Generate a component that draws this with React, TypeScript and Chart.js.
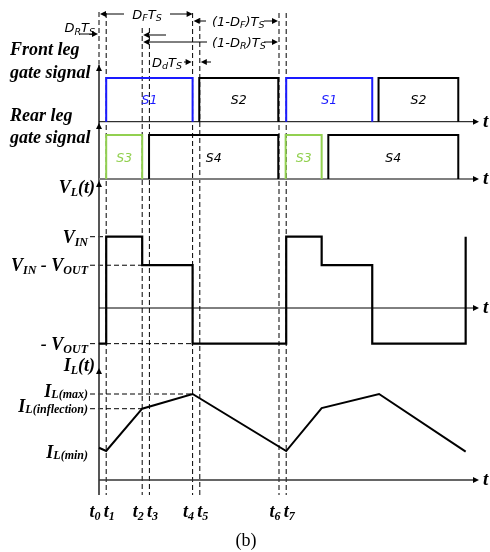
import React, { useEffect, useRef } from 'react';
import { Chart, registerables } from 'chart.js';
Chart.register(...registerables);

const W = 490;
const H = 552;

// ---- data (time in units of Ts, t0 = 0) ----
const timeLabels = ['0', '1', '2', '3', '4', '5', '6', '7'];
const timeMarks = [0, 0.04, 0.24, 0.28, 0.52, 0.56, 1.0, 1.04];

const frontS1 = [[0.04, 0.52], [1.04, 1.518]];
const frontS2 = [[0.557, 0.996], [1.553, 1.996]];
const rearS3 = [[0.04, 0.24], [1.037, 1.237]];
const rearS4 = [[0.278, 0.996], [1.274, 1.996]];

const VIN = 1;
const VIN_MINUS_VOUT = 0.6;
const NEG_VOUT = -0.5;
const vlTimes = [0, 0.04, 0.04, 0.24, 0.24, 0.52, 0.52, 1.04, 1.04, 1.237, 1.237, 1.518, 1.518, 2.037, 2.037];
const vlValues = [-0.5, -0.5, 1, 1, 0.6, 0.6, -0.5, -0.5, 1, 1, 0.6, 0.6, -0.5, -0.5, 1];

const IL_MAX = 10;
const IL_INFL = 8.29;
const IL_MIN = 3.37;
const ilTimes = [0, 0.04, 0.24, 0.52, 1.04, 1.237, 1.556, 2.037];
const ilValues = [3.75, 3.37, 8.29, 10, 3.37, 8.37, 10, 3.3];

// ---- layout (pixels) ----
const X0 = 99;
const PX_TS = 180;
function range(v0: number, p0: number, v1: number, p1: number) {
  const k = (p0 - p1) / (v1 - v0);
  return { min: v0 - (H - p0) / k, max: v0 + p0 / k };
}
const frontR = range(0, 121.7, 1, 78);
const rearR = range(0, 179, 1, 135);
const vlR = range(0, 308, 1, 236.7);
const ilR = range(0, 480, 10, 394);

const SERIF = '"Liberation Serif", "Times New Roman", serif';
const SANS = '"DejaVu Sans", sans-serif';

function pulses(list: number[][]) {
  const pts: any[] = [];
  list.forEach(([a, b]) => {
    pts.push({ x: a, y: 0 }, { x: a, y: 1 }, { x: b, y: 1 }, { x: b, y: 0 }, { x: b + 0.001, y: null });
  });
  return pts;
}

type Seg = { t: string; sub?: boolean };
function rich(ctx: CanvasRenderingContext2D, segs: Seg[], x: number, y: number, align: string,
  size: number, subSize: number, style: string, family: string, color: string, subDy: number) {
  const f = (s: number) => `${style} ${s}px ${family}`;
  let w = 0;
  segs.forEach((s) => { ctx.font = f(s.sub ? subSize : size); w += ctx.measureText(s.t).width; });
  let cx = align === 'left' ? x : align === 'right' ? x - w : x - w / 2;
  ctx.fillStyle = color;
  ctx.textAlign = 'left';
  ctx.textBaseline = 'alphabetic';
  segs.forEach((s) => {
    ctx.font = f(s.sub ? subSize : size);
    ctx.fillText(s.t, cx, s.sub ? y + subDy : y);
    cx += ctx.measureText(s.t).width;
  });
}

function line(ctx: CanvasRenderingContext2D, x1: number, y1: number, x2: number, y2: number,
  color = '#000', w = 1, dash: number[] = []) {
  ctx.save();
  ctx.strokeStyle = color;
  ctx.lineWidth = w;
  ctx.setLineDash(dash);
  ctx.beginPath();
  ctx.moveTo(x1, y1);
  ctx.lineTo(x2, y2);
  ctx.stroke();
  ctx.restore();
}

function head(ctx: CanvasRenderingContext2D, x: number, y: number, dir: string, len = 6, hw = 3) {
  ctx.save();
  ctx.fillStyle = '#000';
  ctx.beginPath();
  if (dir === 'right') { ctx.moveTo(x, y); ctx.lineTo(x - len, y - hw); ctx.lineTo(x - len, y + hw); }
  if (dir === 'left') { ctx.moveTo(x, y); ctx.lineTo(x + len, y - hw); ctx.lineTo(x + len, y + hw); }
  if (dir === 'up') { ctx.moveTo(x, y); ctx.lineTo(x - hw, y + len); ctx.lineTo(x + hw, y + len); }
  ctx.closePath();
  ctx.fill();
  ctx.restore();
}

const overlay = {
  id: 'overlay',
  beforeDatasetsDraw(chart: any) {
    const ctx: CanvasRenderingContext2D = chart.ctx;
    const s = chart.scales;
    const X = (t: number) => s.x.getPixelForValue(t);
    const yF = (v: number) => s.yFront.getPixelForValue(v);
    const yR = (v: number) => s.yRear.getPixelForValue(v);
    const yV = (v: number) => s.yVL.getPixelForValue(v);
    const yI = (v: number) => s.yIL.getPixelForValue(v);
    const xEnd = 479;
    const dash = [5, 3];
    const bottom = 495;

    // vertical dashed time markers
    line(ctx, X(timeMarks[0]), 12, X(timeMarks[0]), yF(0) - 57, '#000', 1, dash);
    timeMarks.forEach((t, i) => {
      if (i === 0) return;
      const top = i === 2 || i === 3 ? 28 : i === 5 ? 18 : 13;
      line(ctx, X(t), top, X(t), bottom, '#000', 1, dash);
    });

    // horizontal dashed level lines
    line(ctx, 90, yV(VIN), X(timeMarks[1]), yV(VIN), '#000', 1, dash);
    line(ctx, 90, yV(VIN_MINUS_VOUT), X(timeMarks[2]), yV(VIN_MINUS_VOUT), '#000', 1, dash);
    line(ctx, 90, yV(NEG_VOUT), X(timeMarks[4]), yV(NEG_VOUT), '#000', 1, dash);
    line(ctx, 90, yI(IL_MAX), X(timeMarks[4]), yI(IL_MAX), '#000', 1, dash);
    line(ctx, 90, yI(IL_INFL), X(timeMarks[2]), yI(IL_INFL), '#000', 1, dash);

    // left vertical axis
    const ax = X(0);
    line(ctx, ax, 65, ax, bottom, '#444', 1.8);
    head(ctx, ax, 65, 'up');
    head(ctx, ax, 123, 'up');
    head(ctx, ax, 181, 'up');
    head(ctx, ax, 368, 'up');

    // horizontal axes
    line(ctx, ax, yF(0), xEnd - 4, yF(0), '#000', 1);
    head(ctx, xEnd, yF(0), 'right');
    line(ctx, ax, yR(0), xEnd - 4, yR(0), '#7f7f7f', 2);
    head(ctx, xEnd, yR(0), 'right');
    line(ctx, ax, yV(0), xEnd - 4, yV(0), '#000', 1);
    head(ctx, xEnd, yV(0), 'right');
    line(ctx, ax, yI(0), xEnd - 4, yI(0), '#333', 1.3);
    head(ctx, xEnd, yI(0), 'right');
  },
  afterDatasetsDraw(chart: any) {
    const ctx: CanvasRenderingContext2D = chart.ctx;
    const s = chart.scales;
    const X = (t: number) => s.x.getPixelForValue(t);
    const yF = (v: number) => s.yFront.getPixelForValue(v);
    const yR = (v: number) => s.yRear.getPixelForValue(v);
    const yV = (v: number) => s.yVL.getPixelForValue(v);
    const yI = (v: number) => s.yIL.getPixelForValue(v);
    const BI = 'italic bold';

    // axis "t" labels
    [yF(0), yR(0), yV(0), yI(0)].forEach((y) => {
      rich(ctx, [{ t: 't' }], 483, y + 5, 'left', 19, 12, BI, SERIF, '#000', 3);
    });

    // left labels
    rich(ctx, [{ t: 'Front leg' }], 10, 55, 'left', 18, 12, BI, SERIF, '#000', 3);
    rich(ctx, [{ t: 'gate signal' }], 10, 78, 'left', 18, 12, BI, SERIF, '#000', 3);
    rich(ctx, [{ t: 'Rear leg' }], 10, 121, 'left', 18, 12, BI, SERIF, '#000', 3);
    rich(ctx, [{ t: 'gate signal' }], 10, 143, 'left', 18, 12, BI, SERIF, '#000', 3);
    rich(ctx, [{ t: 'V' }, { t: 'L', sub: true }, { t: '(t)' }], 95, 193, 'right', 18, 12, BI, SERIF, '#000', 3);
    rich(ctx, [{ t: 'V' }, { t: 'IN', sub: true }], 88, yV(VIN) + 6.5, 'right', 18, 12, BI, SERIF, '#000', 3);
    rich(ctx, [{ t: 'V' }, { t: 'IN', sub: true }, { t: ' - V' }, { t: 'OUT', sub: true }], 88, yV(VIN_MINUS_VOUT) + 6, 'right', 18, 12, BI, SERIF, '#000', 3);
    rich(ctx, [{ t: '- V' }, { t: 'OUT', sub: true }], 88, yV(NEG_VOUT) + 6, 'right', 18, 12, BI, SERIF, '#000', 3);
    rich(ctx, [{ t: 'I' }, { t: 'L', sub: true }, { t: '(t)' }], 95, 371, 'right', 18, 12, BI, SERIF, '#000', 3);
    rich(ctx, [{ t: 'I' }, { t: 'L(max)', sub: true }], 88, yI(IL_MAX) + 3, 'right', 18, 12, BI, SERIF, '#000', 1);
    rich(ctx, [{ t: 'I' }, { t: 'L(inflection)', sub: true }], 88, yI(IL_INFL) + 3.5, 'right', 18, 12, BI, SERIF, '#000', 1);
    rich(ctx, [{ t: 'I' }, { t: 'L(min)', sub: true }], 88, yI(IL_MIN) + 7, 'right', 18, 12, BI, SERIF, '#000', 1);

    // time labels
    timeMarks.forEach((t, i) => {
      const x = X(t) + (i % 2 === 0 ? -4 : 3);
      rich(ctx, [{ t: 't' }, { t: timeLabels[i], sub: true }], x, 517, 'center', 18, 12, BI, SERIF, '#000', 3);
    });

    // gate labels
    const gl = (list: number[][], txt: string, color: string, y: number) => {
      list.forEach(([a, b]) => {
        rich(ctx, [{ t: txt }], (X(a) + X(b)) / 2, y, 'center', 12.5, 9, 'italic', SANS, color, 3);
      });
    };
    gl(frontS1, 'S1', '#1a1aff', yF(0) - 18);
    gl(frontS2, 'S2', '#000', yF(0) - 18);
    gl(rearS3, 'S3', '#92d050', yR(0) - 17);
    gl(rearS4, 'S4', '#000', yR(0) - 17);

    // duty annotations
    const A = (segs: Seg[], x: number, y: number, align: string) =>
      rich(ctx, segs, x, y, align, 13, 9.5, 'italic', SANS, '#000', 2.5);
    const t0 = X(timeMarks[0]);
    const t2 = X(timeMarks[2]);
    const t4 = X(timeMarks[4]);
    const t5 = X(timeMarks[5]);
    const t6 = X(timeMarks[6]);

    // DF Ts
    line(ctx, t0 + 4, 14, 124, 14);
    head(ctx, t0 + 1, 14, 'left');
    A([{ t: 'D' }, { t: 'F', sub: true }, { t: 'T' }, { t: 'S', sub: true }], 147, 18.5, 'center');
    line(ctx, 170, 14, t4 - 4, 14);
    head(ctx, t4, 14, 'right');

    // DR Ts
    A([{ t: 'D' }, { t: 'R', sub: true }, { t: 'T' }, { t: 'S', sub: true }], 95, 32, 'right');
    line(ctx, 80, 34, t0 - 4, 34);
    head(ctx, t0 - 1, 34, 'right');
    line(ctx, t2 + 4, 35, 166, 35);
    head(ctx, t2 + 1, 35, 'left');

    // (1-DF) Ts
    line(ctx, t4 + 4, 21, 206, 21);
    head(ctx, t4 + 1, 21, 'left');
    A([{ t: '(1-D' }, { t: 'F', sub: true }, { t: ')T' }, { t: 'S', sub: true }], 212, 25.5, 'left');
    line(ctx, 264, 21, t6 - 4, 21);
    head(ctx, t6 - 1, 21, 'right');

    // (1-DR) Ts
    line(ctx, t2 + 4, 42, 207, 42);
    head(ctx, t2 + 1, 42, 'left');
    A([{ t: '(1-D' }, { t: 'R', sub: true }, { t: ')T' }, { t: 'S', sub: true }], 212, 46.5, 'left');
    line(ctx, 264, 42, t6 - 4, 42);
    head(ctx, t6 - 1, 42, 'right');

    // Dd Ts
    A([{ t: 'D' }, { t: 'd', sub: true }, { t: 'T' }, { t: 'S', sub: true }], 182, 66.5, 'right');
    line(ctx, 184, 62, t4 - 4, 62);
    head(ctx, t4 - 1, 62, 'right');
    line(ctx, t5 + 4, 62, 211, 62);
    head(ctx, t5 + 1, 62, 'left');

    // caption
    ctx.font = `18px ${SERIF}`;
    ctx.fillStyle = '#000';
    ctx.textAlign = 'center';
    ctx.textBaseline = 'alphabetic';
    ctx.fillText('(b)', 246, 546);
  },
};

export default function App() {
  const ref = useRef<HTMLCanvasElement | null>(null);
  useEffect(() => {
    if (!ref.current) return;
    const lineDs = (data: any[], color: string, yAxisID: string, w = 2) => ({
      data, borderColor: color, borderWidth: w, yAxisID, pointRadius: 0, tension: 0,
      fill: false, spanGaps: false, borderCapStyle: 'butt', borderJoinStyle: 'miter',
    });
    const chart = new Chart(ref.current, {
      type: 'line',
      data: {
        datasets: [
          lineDs(pulses(frontS1), '#1a1aff', 'yFront'),
          lineDs(pulses(frontS2), '#000', 'yFront'),
          lineDs(pulses(rearS3), '#92d050', 'yRear'),
          lineDs(pulses(rearS4), '#000', 'yRear'),
          lineDs(vlTimes.map((t, i) => ({ x: t, y: vlValues[i] })), '#000', 'yVL', 2.2),
          lineDs(ilTimes.map((t, i) => ({ x: t, y: ilValues[i] })), '#000', 'yIL', 2),
        ] as any,
      },
      options: {
        animation: false,
        responsive: false,
        events: [],
        layout: { padding: 0 },
        plugins: { legend: { display: false }, tooltip: { enabled: false } },
        scales: {
          x: { type: 'linear', display: false, min: -X0 / PX_TS, max: (W - X0) / PX_TS },
          yFront: { type: 'linear', display: false, min: frontR.min, max: frontR.max },
          yRear: { type: 'linear', display: false, min: rearR.min, max: rearR.max },
          yVL: { type: 'linear', display: false, min: vlR.min, max: vlR.max },
          yIL: { type: 'linear', display: false, min: ilR.min, max: ilR.max },
        },
      } as any,
      plugins: [overlay],
    });
    return () => chart.destroy();
  }, []);
  return (
    <canvas
      ref={ref}
      width={W}
      height={H}
      style={{ position: 'absolute', left: 0, top: 0, width: W, height: H, background: '#fff' }}
    />
  );
}
